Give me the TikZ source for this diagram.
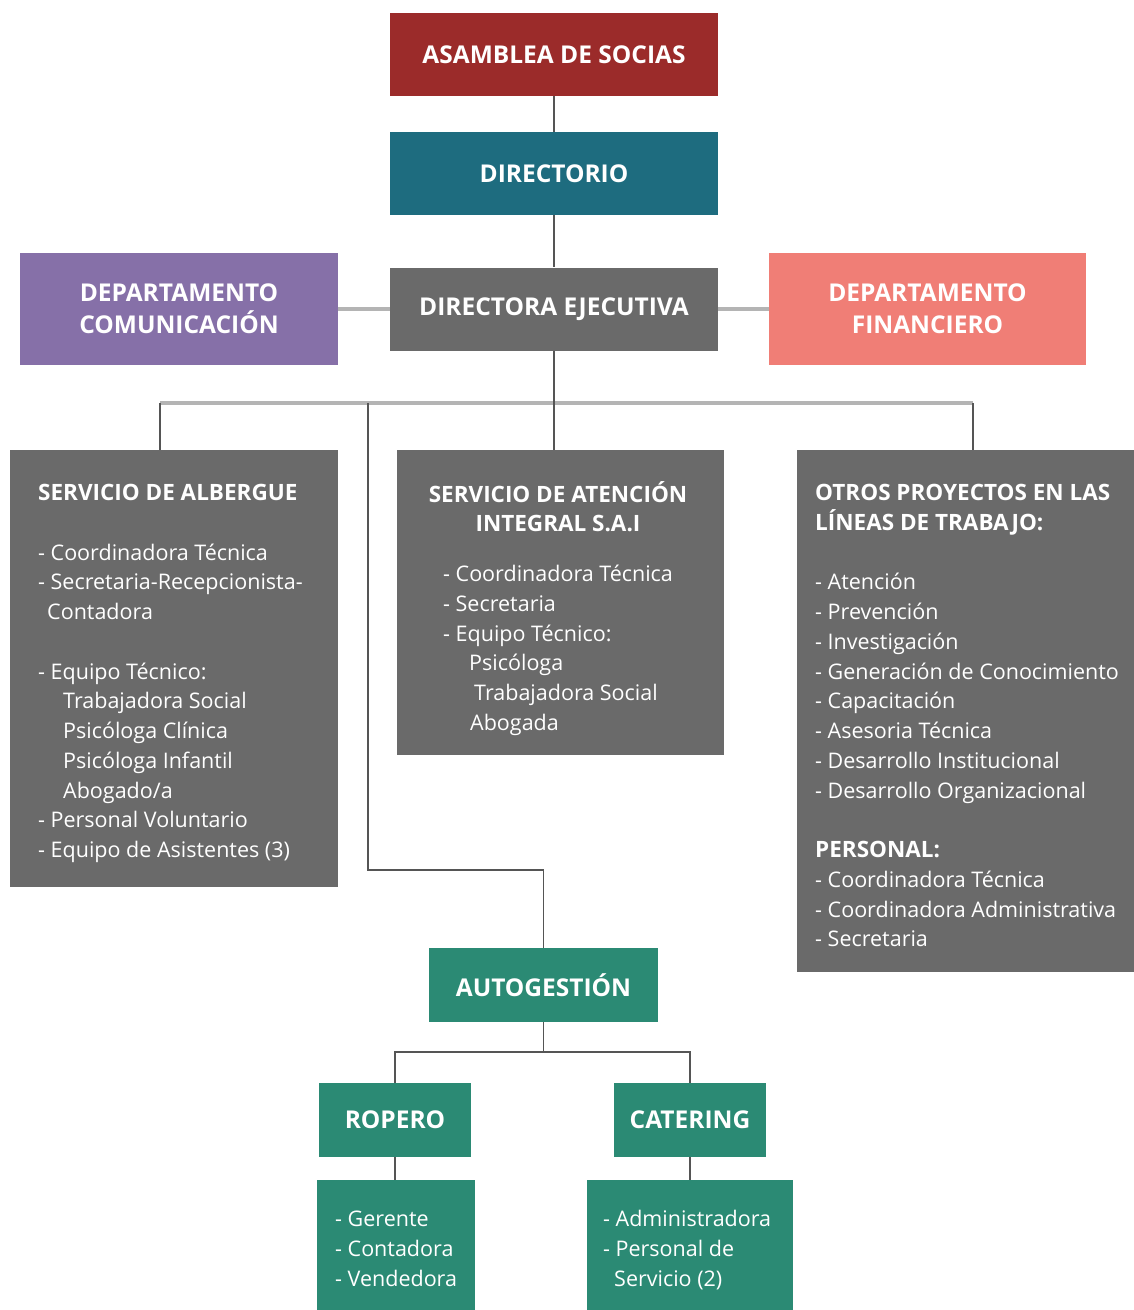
\documentclass[tikz,border=0pt]{standalone}
\usepackage{fontspec}
\setmainfont{Open Sans}
\usetikzlibrary{positioning}
\definecolor{sociasred}{HTML}{9B2B2A}
\definecolor{dirteal}{HTML}{1E6C7F}
\definecolor{boxgray}{HTML}{6A6A6A}
\definecolor{compurple}{HTML}{8670A8}
\definecolor{finsalmon}{HTML}{F07E76}
\definecolor{autogreen}{HTML}{2B8A74}
\definecolor{linegray}{HTML}{555555}
\definecolor{busgray}{HTML}{B4B4B4}
\tikzset{
    x=1pt, y=-1pt, % one unit is one pixel of the chart, y runs down
    box/.style={fill=#1, text=white, inner sep=0pt, align=center,
        font=\bfseries\fontsize{24.5}{32}\selectfont}, % coloured block
    wide/.style={minimum width=328pt, minimum height=83pt}, % top column blocks
    small/.style={minimum width=152pt, minimum height=74pt}, % ropero, catering
    listtxt/.style={text=white, inner sep=0pt, anchor=north west, align=left,
        font=\fontsize{21.5}{29.75}\selectfont}, % text inside the big blocks
    headtxt/.style={font=\bfseries\fontsize{22.5}{29.75}\selectfont},
    link/.style={draw=linegray, line width=1.3pt}, % thin connector
    bus/.style={draw=busgray, line width=3.5pt}, % thick light connector
}

\begin{document}
\begin{tikzpicture}
\useasboundingbox (0,0) rectangle (1134,1310);
% top column
\node[box=sociasred, wide] (asam) at (554,54.5) {ASAMBLEA DE SOCIAS};
\node[box=dirteal, wide] (dir) at (554,173.5) {DIRECTORIO};
\node[box=boxgray, wide] (dirEj) at (554,309) {DIRECTORA EJECUTIVA};
\node[box=compurple, minimum width=318pt, minimum height=112pt] (com) at (179,309) {DEPARTAMENTO\\COMUNICACIÓN};
\node[box=finsalmon, minimum width=317pt, minimum height=112pt] (fin) at (927.5,309) {DEPARTAMENTO\\FINANCIERO};
% services
\node[box=boxgray, minimum width=328pt, minimum height=437pt] (alb) at (174,668.5) {};
\node[box=boxgray, minimum width=327pt, minimum height=305pt] (sai) at (560.5,602.5) {};
\node[box=boxgray, minimum width=337pt, minimum height=522pt] (otros) at (965.5,711) {};
\node[listtxt] (albTxt) at (38,484) {{\bfseries\fontsize{22.5}{29.75}\selectfont SERVICIO DE ALBERGUE}\\[29.75pt]
    - Coordinadora Técnica\\
    - Secretaria-Recepcionista-\\
    \hspace*{9pt}Contadora\\[29.75pt]
    - Equipo Técnico:\\
    \hspace*{25pt}Trabajadora Social\\
    \hspace*{25pt}Psicóloga Clínica\\
    \hspace*{25pt}Psicóloga Infantil\\
    \hspace*{25pt}Abogado/a\\
    - Personal Voluntario\\
    - Equipo de Asistentes (3)};
\node[text=white, inner sep=0pt, align=center, anchor=north, headtxt]
    (saiHead) at (558,481) {SERVICIO DE ATENCIÓN\\INTEGRAL S.A.I};
\node[listtxt] (saiTxt) at (443,565) {- Coordinadora Técnica\\
    - Secretaria\\
    - Equipo Técnico:\\
    \hspace*{26pt}Psicóloga\\
    \hspace*{31pt}Trabajadora Social\\
    \hspace*{27pt}Abogada};
\node[listtxt] (otrosTxt) at (815,484) {{\bfseries\fontsize{22.5}{29.75}\selectfont OTROS PROYECTOS EN LAS}\\
    {\bfseries\fontsize{22.5}{29.75}\selectfont LÍNEAS DE TRABAJO:}\\[29.75pt]
    - Atención\\
    - Prevención\\
    - Investigación\\
    - Generación de Conocimiento\\
    - Capacitación\\
    - Asesoria Técnica\\
    - Desarrollo Institucional\\
    - Desarrollo Organizacional\\[29.75pt]
    {\bfseries\fontsize{22.5}{29.75}\selectfont PERSONAL:}\\
    - Coordinadora Técnica\\
    - Coordinadora Administrativa\\
    - Secretaria};
% autogestion
\node[box=autogreen, minimum width=229pt, minimum height=74pt] (auto) at (543.5,985) {AUTOGESTIÓN};
\node[box=autogreen, small] (rop) at (395,1120) {ROPERO};
\node[box=autogreen, small] (cat) at (690,1120) {CATERING};
\node[box=autogreen, minimum width=158pt, minimum height=130pt] (ropList) at (396,1245) {};
\node[box=autogreen, minimum width=206pt, minimum height=130pt] (catList) at (690,1245) {};
\node[listtxt] (ropTxt) at (335,1211) {- Gerente\\- Contadora\\- Vendedora};
\node[listtxt] (catTxt) at (603,1210) {- Administradora\\- Personal de\\\hspace*{11pt}Servicio (2)};
% connectors
\coordinate (busL) at (160,403);
\coordinate (busR) at (973,403);
\coordinate (busA) at (368,403);
\coordinate (turn) at (368,870);
\coordinate (fork) at (543.5,1052);
\draw[link] (asam) -- (dir);
\draw[link] (dir) -- (dirEj);
\draw[bus] (com) -- (dirEj);
\draw[bus] (dirEj) -- (fin);
\draw[bus] (busL) -- (busR);
\draw[link] (dirEj.south) -- (dirEj.south |- sai.north);
\draw[link] (busL) -- (busL |- alb.north);
\draw[link] (busR) -- (busR |- otros.north);
\draw[link] (busA) -- (turn) -| (auto.north);
\draw[link] (auto.south) -- (fork);
\draw[link] (rop.north) |- (fork) -| (cat.north);
\draw[link] (rop.south) -- (rop.south |- ropList.north);
\draw[link] (cat.south) -- (cat.south |- catList.north);
\end{tikzpicture}
\end{document}
